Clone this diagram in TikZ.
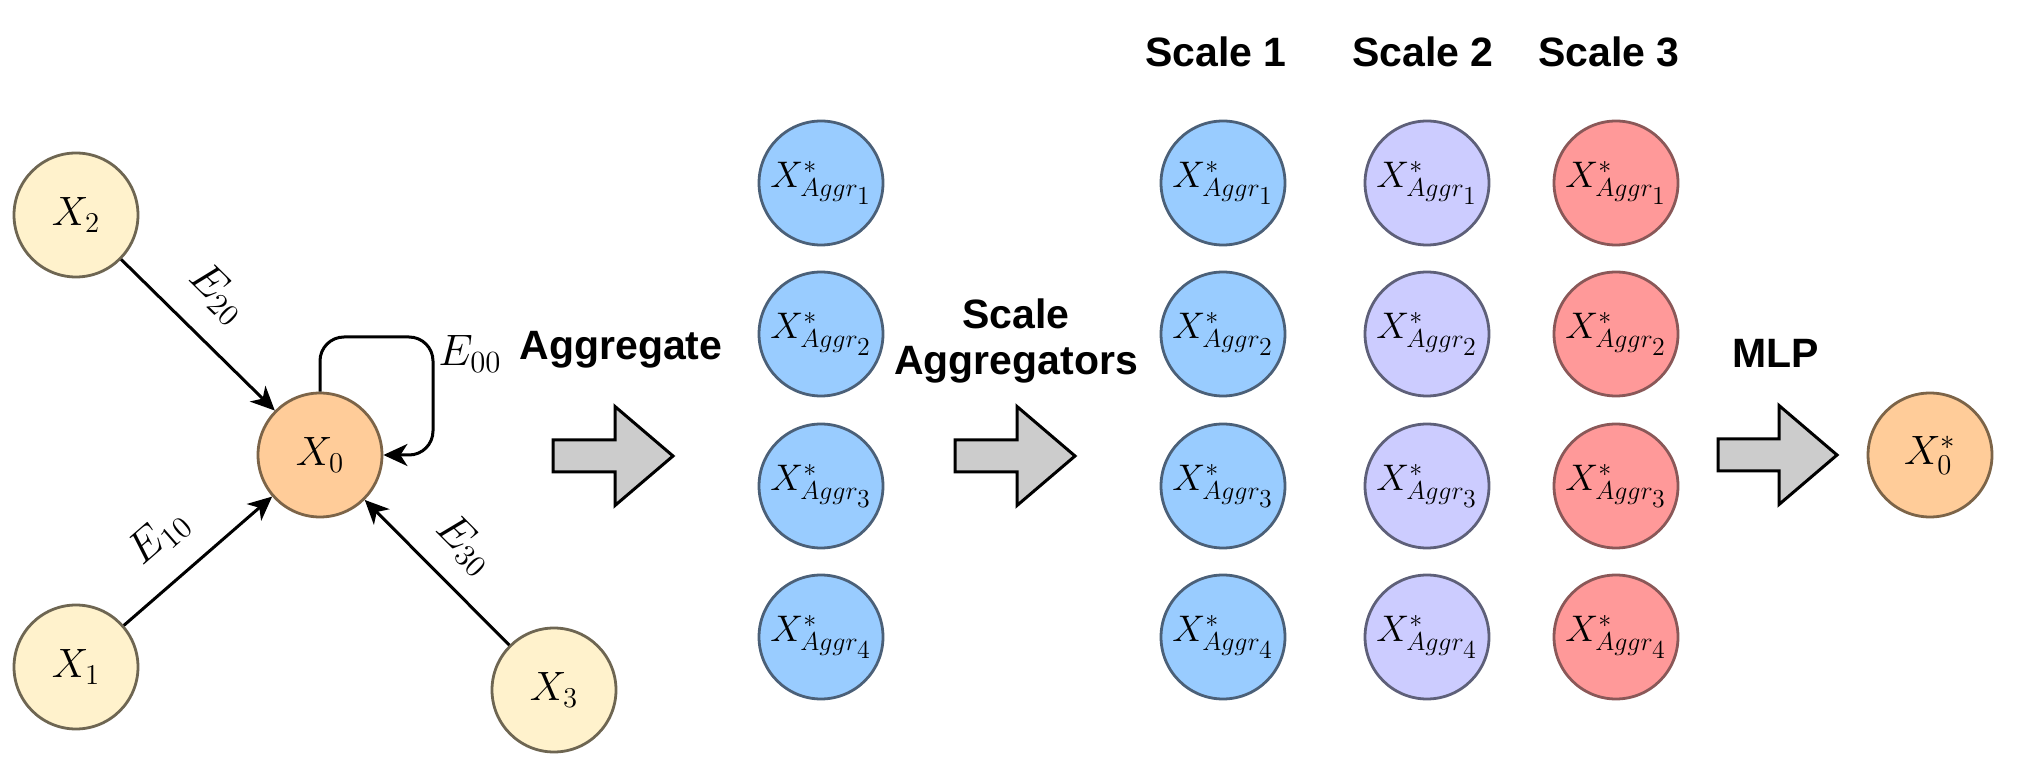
\RequirePackage{fix-cm}
\documentclass[tikz,border=0pt]{standalone}
\usepackage{fontspec}
\setmainfont{Liberation Sans}
\usetikzlibrary{arrows.meta}
\definecolor{yfill}{HTML}{FFF2CC}
\definecolor{ydraw}{HTML}{6E6652}
\definecolor{ofill}{HTML}{FFCC99}
\definecolor{odraw}{HTML}{7C6448}
\definecolor{bfill}{HTML}{99CCFF}
\definecolor{bdraw}{HTML}{4B6078}
\definecolor{pfill}{HTML}{CCCCFF}
\definecolor{pdraw}{HTML}{5E6079}
\definecolor{rfill}{HTML}{FF9999}
\definecolor{rdraw}{HTML}{8A5858}
\definecolor{afill}{HTML}{CCCCCC}
\newcommand\blkarrow[4]{\draw[blk] (#1,#4-16) -- (#2,#4-16) -- (#2,#4-49.5) -- (#3,#4) -- (#2,#4+49.5) -- (#2,#4+16) -- (#1,#4+16) -- cycle;}
\newcommand\zb[1]{\makebox[0pt][c]{#1}}
\begin{document}
\begin{tikzpicture}[x=0.5pt,y=-0.5pt,
  mathfont/.style={font=\fontsize{20.5}{24}\selectfont},
  edgefont/.style={font=\fontsize{22}{26}\selectfont},
  aggfont/.style={font=\fontsize{18.5}{22}\selectfont},
  nbase/.style={circle, draw, line width=1.4pt, inner sep=0pt, minimum size=62pt},
  ynode/.style={nbase, mathfont, fill=yfill, draw=ydraw},
  onode/.style={nbase, mathfont, fill=ofill, draw=odraw},
  bcirc/.style={nbase, aggfont, fill=bfill, draw=bdraw},
  pcirc/.style={nbase, aggfont, fill=pfill, draw=pdraw},
  rcirc/.style={nbase, aggfont, fill=rfill, draw=rdraw},
  conn/.style={draw=black, line width=1.5pt, -{Stealth[length=12pt,width=11pt,inset=3.5pt]}},
  lbl/.style={edgefont, inner sep=0pt},
  title/.style={font=\fontsize{20.5}{23}\selectfont\bfseries, inner sep=0pt},
  blk/.style={draw=black, fill=afill, line width=1.5pt, line join=miter}
]
\useasboundingbox (0,0) rectangle (2021,763);

% input graph
\node[ynode] (x2) at (76,215) {$X_2$};
\node[onode] (x0) at (320,455) {$X_0$};
\node[ynode] (x1) at (76,667) {$X_1$};
\node[ynode] (x3) at (554,690) {$X_3$};

\draw[conn] (x2) -- (x0) node[lbl, sloped, above=12pt, pos=0.43] {$E_{20}$};
\draw[conn] (x1) -- (x0) node[lbl, sloped, above=12pt, pos=0.43] {$E_{10}$};
\draw[conn] (x3) -- (x0) node[lbl, sloped, above=10pt, pos=0.5] {$E_{30}$};
\coordinate (lc) at (433,337);
\draw[conn, rounded corners=12pt] (x0.north) |- (lc) |- (x0.east);
\node[lbl] (e00) at (470,354) {$E_{00}$};

% titles
\node[title, anchor=base] (agg) at (621,360) {Aggregate};
\node[title, align=center] (sagg) at (1016,341) {Scale\\Aggregators};
\node[title, anchor=base] (sc1) at (1216,67) {Scale 1};
\node[title, anchor=base] (sc2) at (1423,67) {Scale 2};
\node[title, anchor=base] (sc3) at (1609,67) {Scale 3};
\node[title, anchor=base] (mlp) at (1776,368) {MLP};

% block arrows
\blkarrow{553}{615}{673}{456}
\blkarrow{955}{1017}{1075}{456}
\blkarrow{1718}{1779}{1837}{455}

% aggregator columns
\foreach \i/\y in {1/183,2/334,3/486,4/637} {
  \node[bcirc] (a\i) at (821,\y) {\zb{$X^*_{Aggr_{\scriptstyle \i}}$}};
  \node[bcirc] (sa\i) at (1223,\y) {\zb{$X^*_{Aggr_{\scriptstyle \i}}$}};
  \node[pcirc] (sb\i) at (1427,\y) {\zb{$X^*_{Aggr_{\scriptstyle \i}}$}};
  \node[rcirc] (sc\i) at (1616,\y) {\zb{$X^*_{Aggr_{\scriptstyle \i}}$}};
}
\node[onode] (out) at (1930,455) {$X^*_0$};
\end{tikzpicture}
\end{document}
